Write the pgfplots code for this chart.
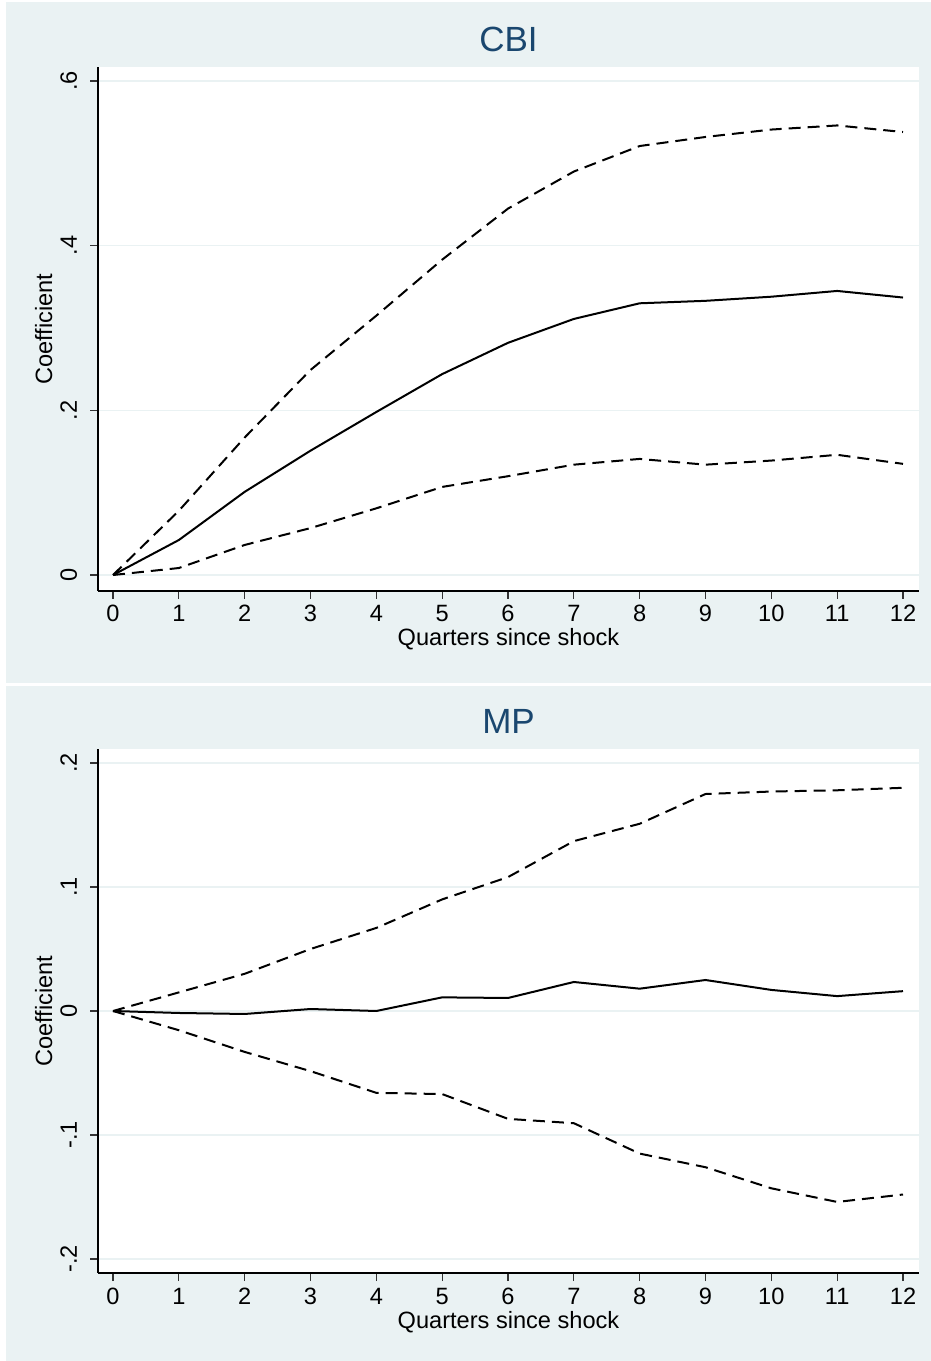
\documentclass[border=0pt]{standalone}
\usepackage{fontspec}
\setmainfont{Liberation Sans}
\usepackage{pgfplots}
\pgfplotsset{compat=1.18}
\definecolor{bgc}{HTML}{EAF2F3}
\definecolor{titc}{HTML}{1A476F}
\pgfplotsset{stata/.style={
  scale only axis, width=410.5pt, height=262pt,
  axis lines*=left, axis line style={black, line width=0.8pt, -},
  xmin=-0.228, xmax=12.243,
  xtick={0,1,2,3,4,5,6,7,8,9,10,11,12},
  xticklabels={0,1,2,3,4,5,6,7,8,9,10,11,12},
  tick align=outside, major tick length=4pt,
  tick style={black!80, line width=0.6pt},
  ymajorgrids, major grid style={bgc, line width=0.8pt},
  axis background/.style={fill=white},
  ticklabel style={font=\fontsize{11.8}{14}\selectfont},
  label style={font=\fontsize{11.8}{14}\selectfont},
  xticklabel style={anchor=base, yshift=-11.5pt, inner sep=0pt},
  yticklabel style={rotate=90, anchor=base, yshift=6.5pt, inner sep=0pt},
  xlabel={Quarters since shock}, ylabel={Coefficient},
  xlabel style={at={(rel axis cs:0.5,0)}, anchor=base, yshift=-27.5pt, inner sep=0pt},
  ylabel style={at={(rel axis cs:0,0.5)}, anchor=base, yshift=23pt, inner sep=0pt},
  title style={at={(rel axis cs:0.5,1)}, anchor=base, yshift=1.5pt, inner sep=0pt, font=\fontsize{17.5}{20}\selectfont, text=titc},
  solidl/.style={black, line width=1pt, mark=none},
  dashl/.style={black, line width=1pt, mark=none, dash pattern=on 6pt off 3.5pt},
}}
\begin{document}
\begin{tikzpicture}
\useasboundingbox (0pt,0pt) rectangle (465.5pt,680.5pt);
\fill[white] (0pt,0pt) rectangle (465.5pt,680.5pt);
\fill[bgc] (3pt,339pt) rectangle (465.5pt,679.5pt);
\fill[bgc] (3pt,0pt) rectangle (465.5pt,337.5pt);

\begin{axis}[stata, at={(49pt,385pt)}, anchor=south west,
  title={CBI},
  ymin=-0.0194, ymax=0.617,
  ytick={0,0.2,0.4,0.6}, yticklabels={0,.2,.4,.6}]
\addplot[solidl] coordinates {(0,0) (1,0.0425) (2,0.101) (3,0.151) (4,0.198) (5,0.244) (6,0.282) (7,0.311) (8,0.330) (9,0.333) (10,0.338) (11,0.345) (12,0.337)};
\addplot[dashl] coordinates {(0,0) (1,0.078) (2,0.167) (3,0.249) (4,0.315) (5,0.383) (6,0.445) (7,0.490) (8,0.521) (9,0.532) (10,0.541) (11,0.546) (12,0.538)};
\addplot[dashl] coordinates {(0,0) (1,0.0085) (2,0.0365) (3,0.057) (4,0.081) (5,0.107) (6,0.120) (7,0.134) (8,0.141) (9,0.134) (10,0.139) (11,0.146) (12,0.135)};
\end{axis}

\begin{axis}[stata, at={(49pt,44pt)}, anchor=south west,
  title={MP},
  ymin=-0.2113, ymax=0.2113,
  ytick={-0.2,-0.1,0,0.1,0.2}, yticklabels={-.2,-.1,0,.1,.2}]
\addplot[solidl] coordinates {(0,0) (1,-0.0016) (2,-0.0024) (3,0.0016) (4,0) (5,0.011) (6,0.0105) (7,0.0234) (8,0.018) (9,0.025) (10,0.017) (11,0.012) (12,0.016)};
\addplot[dashl] coordinates {(0,0) (1,0.015) (2,0.030) (3,0.050) (4,0.067) (5,0.090) (6,0.108) (7,0.137) (8,0.151) (9,0.175) (10,0.177) (11,0.178) (12,0.180)};
\addplot[dashl] coordinates {(0,0) (1,-0.0155) (2,-0.033) (3,-0.0485) (4,-0.066) (5,-0.067) (6,-0.087) (7,-0.0905) (8,-0.115) (9,-0.126) (10,-0.143) (11,-0.154) (12,-0.148)};
\end{axis}
\end{tikzpicture}
\end{document}
